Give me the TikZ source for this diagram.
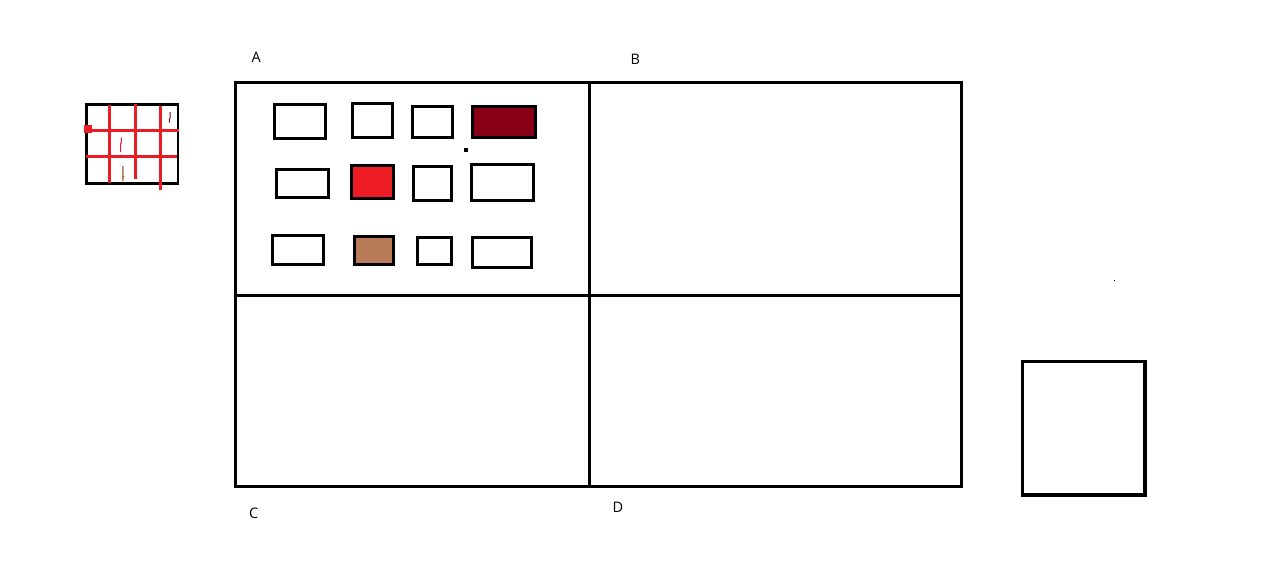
\documentclass[tikz,border=0pt]{standalone}
\usepackage{fontspec}
\setmainfont{Open Sans}
\usepackage{tikz}
\usetikzlibrary{positioning}
\definecolor{rossoscuro}{HTML}{880015}
\definecolor{rosso}{HTML}{ED1C24}
\definecolor{marrone}{HTML}{B97A57}

\begin{document}
\begin{tikzpicture}[x=1pt, y=-1pt,
    bordo/.style={draw=black, line width=3pt},
    griglia/.style={draw=rosso, line width=3pt},
    etichetta/.style={anchor=base west, inner sep=0pt, font=\fontsize{14.5}{16}\selectfont}]
    \useasboundingbox (0,0) rectangle (1267,568);
    % Disegna la griglia piccola a sinistra
    \draw[bordo, line width=2.7pt] (86.3,104.7) rectangle (178,183.3);
    \draw[griglia] (109.5,105) -- (109.5,183);
    \draw[griglia] (135.2,104) -- (135.2,179);
    \draw[griglia] (160.2,105.7) -- (160.2,189.7);
    \draw[griglia] (88.3,130.2) -- (179,130.2);
    \draw[griglia] (85.7,156.5) -- (177,156.5);
    \fill[rosso] (83.7,124.7) rectangle (92,133);
    % tratti a mano nella griglia
    \draw[rossoscuro, line width=1pt] (170.2,112) -- (170.2,118) -- (169.3,119) -- (169.3,122.7);
    \draw[rosso, line width=1pt] (121.3,137.7) -- (121.3,142.5) -- (120.5,143.5) -- (120.5,152);
    \draw[marrone, line width=1.5pt] (122.8,166) -- (122.8,181) (123,176) -- (124.2,177);
    % Disegna il riquadro grande con i quattro settori
    \draw[bordo] (235.3,82.7) rectangle (961,486);
    \draw[bordo] (589.3,82.7) -- (589.3,486);
    \draw[bordo] (235.3,295.3) -- (961,295.3);
    % Etichette dei settori
    \node[etichetta] (lblA) at (251.5,62.7) {A};
    \node[etichetta] (lblB) at (630.5,64) {B};
    \node[etichetta] (lblC) at (249,518.3) {C};
    \node[etichetta] (lblD) at (612.5,512.3) {D};
    % Disegna i rettangoli del settore A
    \draw[bordo] (274.8,104.8) rectangle (325.8,138.5);
    \draw[bordo] (352.2,103.8) rectangle (392.8,137.2);
    \draw[bordo] (412.8,106.8) rectangle (452.8,137.2);
    \draw[bordo, fill=rossoscuro] (472.8,106.5) rectangle (535.2,137.2);
    \draw[bordo] (276.8,169.5) rectangle (328.2,197.2);
    \draw[bordo, fill=rosso] (351.8,165.8) rectangle (393.2,198.2);
    \draw[bordo] (413.5,166.8) rectangle (451.2,200.2);
    \draw[bordo] (471.5,164.5) rectangle (533.2,200.5);
    \draw[bordo] (272.8,235.5) rectangle (323.2,264.2);
    \draw[bordo, fill=marrone] (354.8,236.5) rectangle (393.2,264.2);
    \draw[bordo] (417.5,237.5) rectangle (451.2,264.2);
    \draw[bordo] (472.8,237.5) rectangle (531.2,267.2);
    \fill (464.3,147.7) rectangle (468,152);
    % Disegna il quadrato a destra
    \fill (1113.7,279.7) rectangle (1115,280.9);
    \draw[bordo, line width=3.3pt] (1022.7,361.7) rectangle (1145,495);
\end{tikzpicture}
\end{document}
